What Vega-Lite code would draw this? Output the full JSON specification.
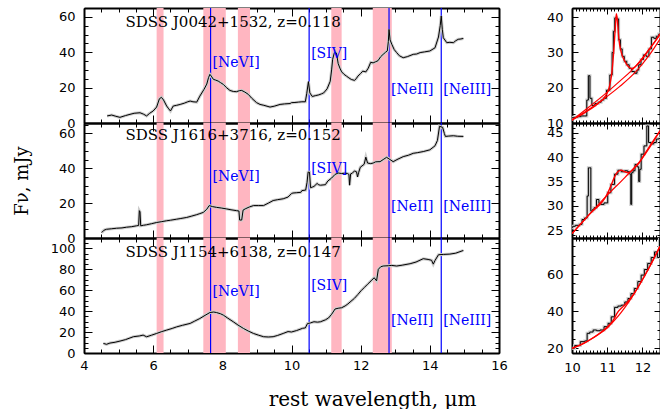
{
"$schema":"https://vega.github.io/schema/vega-lite/v6.json",
"padding":{"left":13,"top":7,"right":0,"bottom":0},
"background":"white",
"config":{"view":{"stroke":null},"axis":{"grid":false,"labelFont":"DejaVu Sans","labelFontSize":13,"labelColor":"#000","tickColor":"#000","tickWidth":1,"domainColor":"#000","domainWidth":2,"titleFont":"DejaVu Serif","titleFontSize":18,"titleFontWeight":"normal","titleColor":"#000","labelFlush":false,"labelOverlap":false,"zindex":1}},
"datasets":{
"bands":[{"x1":6.1,"x2":6.3},{"x1":7.45,"x2":8.1},{"x1":8.45,"x2":8.8},{"x1":11.15,"x2":11.45},{"x1":12.35,"x2":12.9}],
"lines":[{"w":7.66},{"w":10.51},{"w":12.82},{"w":14.33}],
"lab1":[{"t":"[NeVI]","w":7.66,"f":34},{"t":"[SIV]","w":10.51,"f":39},{"t":"[NeII]","w":12.82,"f":18.6},{"t":"[NeIII]","w":14.33,"f":18.6}],
"lab2":[{"t":"[NeVI]","w":7.66,"f":35},{"t":"[SIV]","w":10.51,"f":39.5},{"t":"[NeII]","w":12.82,"f":18},{"t":"[NeIII]","w":14.33,"f":18}],
"lab3":[{"t":"[NeVI]","w":7.66,"f":58},{"t":"[SIV]","w":10.51,"f":64},{"t":"[NeII]","w":12.82,"f":30.5},{"t":"[NeIII]","w":14.33,"f":30.5}],
"title1":[{"t":"SDSS J0042+1532, z=0.118","w":5.2,"f":57}],
"title2":[{"t":"SDSS J1616+3716, z=0.152","w":5.2,"f":59.3}],
"title3":[{"t":"SDSS J1154+6138, z=0.147","w":5.2,"f":97}],
"s1":[{"w":4.67,"f":4.0},{"w":4.8,"f":4.5},{"w":4.92,"f":3.8},{"w":5.04,"f":3.2},{"w":5.2,"f":4.2},{"w":5.33,"f":4.9},{"w":5.45,"f":5.5},{"w":5.62,"f":5.8},{"w":5.72,"f":5.0},{"w":5.81,"f":4.0},{"w":5.9,"f":5.5},{"w":6.0,"f":6.8},{"w":6.1,"f":9.0},{"w":6.18,"f":13.7},{"w":6.24,"f":14.5},{"w":6.3,"f":13.0},{"w":6.39,"f":9.6},{"w":6.45,"f":8.0},{"w":6.5,"f":6.8},{"w":6.58,"f":9.6},{"w":6.68,"f":10.0},{"w":6.78,"f":10.5},{"w":6.9,"f":11.2},{"w":7.0,"f":12.0},{"w":7.07,"f":12.4},{"w":7.15,"f":12.0},{"w":7.26,"f":11.8},{"w":7.35,"f":15.2},{"w":7.47,"f":19.0},{"w":7.55,"f":22.0},{"w":7.6,"f":25.6},{"w":7.64,"f":27.5},{"w":7.68,"f":26.5},{"w":7.74,"f":24.7},{"w":7.8,"f":24.3},{"w":7.88,"f":23.7},{"w":7.95,"f":22.8},{"w":8.03,"f":21.8},{"w":8.12,"f":20.0},{"w":8.22,"f":18.4},{"w":8.32,"f":17.8},{"w":8.41,"f":17.7},{"w":8.5,"f":18.3},{"w":8.56,"f":18.4},{"w":8.65,"f":17.5},{"w":8.75,"f":16.2},{"w":8.85,"f":14.0},{"w":8.99,"f":11.5},{"w":9.09,"f":10.5},{"w":9.2,"f":10.0},{"w":9.38,"f":9.0},{"w":9.5,"f":9.5},{"w":9.67,"f":10.5},{"w":9.8,"f":10.8},{"w":9.96,"f":11.0},{"w":10.0,"f":11.5},{"w":10.1,"f":11.6},{"w":10.2,"f":11.8},{"w":10.3,"f":12.0},{"w":10.4,"f":12.0},{"w":10.44,"f":16.5},{"w":10.49,"f":23.4},{"w":10.53,"f":17.0},{"w":10.6,"f":15.0},{"w":10.7,"f":15.5},{"w":10.79,"f":15.9},{"w":10.87,"f":16.5},{"w":10.93,"f":17.0},{"w":11.03,"f":19.3},{"w":11.12,"f":23.6},{"w":11.16,"f":30.0},{"w":11.19,"f":36.0},{"w":11.24,"f":39.8},{"w":11.3,"f":39.5},{"w":11.35,"f":33.6},{"w":11.4,"f":31.0},{"w":11.45,"f":28.9},{"w":11.52,"f":27.5},{"w":11.59,"f":26.5},{"w":11.66,"f":25.5},{"w":11.73,"f":24.6},{"w":11.82,"f":24.1},{"w":11.87,"f":25.0},{"w":11.92,"f":26.5},{"w":12.0,"f":28.0},{"w":12.06,"f":29.3},{"w":12.15,"f":28.9},{"w":12.22,"f":31.0},{"w":12.29,"f":34.3},{"w":12.36,"f":34.0},{"w":12.43,"f":34.6},{"w":12.5,"f":35.2},{"w":12.58,"f":37.5},{"w":12.65,"f":38.8},{"w":12.72,"f":40.0},{"w":12.77,"f":40.7},{"w":12.8,"f":46.0},{"w":12.82,"f":52.9},{"w":12.85,"f":47.0},{"w":12.9,"f":44.5},{"w":12.97,"f":41.5},{"w":13.04,"f":39.8},{"w":13.12,"f":38.0},{"w":13.23,"f":36.9},{"w":13.35,"f":37.5},{"w":13.52,"f":38.8},{"w":13.62,"f":39.0},{"w":13.72,"f":39.8},{"w":13.85,"f":40.2},{"w":14.0,"f":40.7},{"w":14.15,"f":42.5},{"w":14.25,"f":48.6},{"w":14.3,"f":55.0},{"w":14.33,"f":60.5},{"w":14.36,"f":53.0},{"w":14.39,"f":48.2},{"w":14.49,"f":45.4},{"w":14.58,"f":45.6},{"w":14.68,"f":45.4},{"w":14.75,"f":46.5},{"w":14.82,"f":47.3},{"w":14.9,"f":47.5},{"w":14.97,"f":47.8}],
"s2":[{"w":4.51,"f":3.1},{"w":4.58,"f":4.5},{"w":4.65,"f":5.0},{"w":4.8,"f":5.3},{"w":4.94,"f":5.6},{"w":5.1,"f":5.8},{"w":5.23,"f":6.2},{"w":5.38,"f":6.5},{"w":5.52,"f":7.0},{"w":5.58,"f":7.2},{"w":5.6,"f":15.7},{"w":5.62,"f":15.0},{"w":5.64,"f":7.0},{"w":5.72,"f":7.3},{"w":5.81,"f":7.6},{"w":5.95,"f":8.2},{"w":6.1,"f":8.9},{"w":6.25,"f":9.4},{"w":6.39,"f":9.9},{"w":6.5,"f":10.2},{"w":6.68,"f":10.8},{"w":6.8,"f":11.2},{"w":6.97,"f":11.8},{"w":7.1,"f":12.5},{"w":7.26,"f":13.4},{"w":7.35,"f":14.0},{"w":7.45,"f":14.7},{"w":7.55,"f":16.5},{"w":7.62,"f":18.6},{"w":7.72,"f":18.0},{"w":7.83,"f":17.6},{"w":7.97,"f":17.2},{"w":8.12,"f":16.7},{"w":8.25,"f":16.2},{"w":8.41,"f":15.7},{"w":8.48,"f":15.5},{"w":8.5,"f":10.3},{"w":8.56,"f":10.3},{"w":8.6,"f":16.0},{"w":8.66,"f":16.7},{"w":8.78,"f":17.8},{"w":8.9,"f":18.6},{"w":9.05,"f":18.6},{"w":9.19,"f":18.6},{"w":9.33,"f":20.0},{"w":9.47,"f":21.5},{"w":9.6,"f":22.0},{"w":9.76,"f":22.5},{"w":9.9,"f":23.5},{"w":10.0,"f":25.5},{"w":10.04,"f":25.8},{"w":10.15,"f":26.0},{"w":10.27,"f":26.2},{"w":10.3,"f":27.2},{"w":10.41,"f":27.5},{"w":10.45,"f":32.0},{"w":10.48,"f":37.8},{"w":10.52,"f":37.8},{"w":10.55,"f":28.9},{"w":10.6,"f":29.2},{"w":10.65,"f":29.6},{"w":10.74,"f":31.3},{"w":10.79,"f":30.5},{"w":10.84,"f":30.3},{"w":10.98,"f":30.6},{"w":11.05,"f":32.7},{"w":11.16,"f":34.4},{"w":11.26,"f":36.5},{"w":11.35,"f":37.3},{"w":11.45,"f":37.0},{"w":11.54,"f":37.2},{"w":11.62,"f":37.0},{"w":11.66,"f":36.5},{"w":11.68,"f":30.3},{"w":11.71,"f":36.8},{"w":11.76,"f":37.2},{"w":11.82,"f":38.5},{"w":11.88,"f":38.0},{"w":11.91,"f":35.0},{"w":11.94,"f":37.5},{"w":11.99,"f":40.6},{"w":12.1,"f":42.3},{"w":12.15,"f":46.4},{"w":12.2,"f":43.0},{"w":12.29,"f":42.7},{"w":12.36,"f":43.0},{"w":12.43,"f":43.7},{"w":12.5,"f":43.8},{"w":12.56,"f":43.8},{"w":12.65,"f":45.0},{"w":12.75,"f":46.3},{"w":12.85,"f":45.0},{"w":12.94,"f":43.8},{"w":13.05,"f":45.0},{"w":13.23,"f":46.7},{"w":13.38,"f":47.5},{"w":13.52,"f":48.6},{"w":13.65,"f":49.0},{"w":13.81,"f":49.6},{"w":14.0,"f":50.6},{"w":14.15,"f":52.9},{"w":14.22,"f":56.0},{"w":14.28,"f":64.1},{"w":14.37,"f":63.5},{"w":14.42,"f":60.0},{"w":14.45,"f":58.3},{"w":14.55,"f":58.5},{"w":14.68,"f":58.7},{"w":14.8,"f":58.4},{"w":14.97,"f":58.3}],
"s3":[{"w":4.56,"f":9.2},{"w":4.65,"f":8.3},{"w":4.75,"f":9.5},{"w":4.9,"f":10.3},{"w":5.04,"f":11.4},{"w":5.2,"f":12.8},{"w":5.43,"f":15.6},{"w":5.6,"f":16.3},{"w":5.71,"f":17.1},{"w":5.81,"f":15.5},{"w":5.95,"f":17.0},{"w":6.1,"f":18.7},{"w":6.25,"f":20.5},{"w":6.39,"f":21.9},{"w":6.55,"f":23.5},{"w":6.68,"f":25.0},{"w":6.85,"f":26.5},{"w":7.07,"f":28.3},{"w":7.2,"f":30.5},{"w":7.35,"f":33.0},{"w":7.5,"f":36.0},{"w":7.64,"f":38.7},{"w":7.75,"f":39.2},{"w":7.83,"f":38.7},{"w":7.95,"f":37.5},{"w":8.03,"f":36.2},{"w":8.15,"f":33.5},{"w":8.32,"f":29.8},{"w":8.45,"f":26.8},{"w":8.61,"f":23.5},{"w":8.75,"f":21.0},{"w":8.9,"f":18.7},{"w":9.05,"f":17.0},{"w":9.19,"f":15.6},{"w":9.33,"f":15.3},{"w":9.47,"f":15.6},{"w":9.6,"f":16.8},{"w":9.76,"f":18.7},{"w":9.9,"f":20.5},{"w":10.0,"f":20.1},{"w":10.15,"f":21.5},{"w":10.32,"f":23.6},{"w":10.4,"f":24.0},{"w":10.46,"f":28.1},{"w":10.55,"f":28.8},{"w":10.65,"f":29.9},{"w":10.75,"f":29.5},{"w":10.84,"f":29.9},{"w":10.98,"f":31.7},{"w":11.07,"f":33.5},{"w":11.16,"f":37.0},{"w":11.26,"f":42.1},{"w":11.35,"f":42.8},{"w":11.45,"f":43.3},{"w":11.55,"f":45.0},{"w":11.63,"f":46.9},{"w":11.72,"f":49.5},{"w":11.82,"f":52.3},{"w":11.92,"f":56.0},{"w":12.01,"f":59.5},{"w":12.1,"f":62.5},{"w":12.2,"f":65.8},{"w":12.3,"f":69.0},{"w":12.39,"f":72.0},{"w":12.46,"f":69.0},{"w":12.51,"f":80.0},{"w":12.58,"f":82.5},{"w":12.65,"f":83.2},{"w":12.8,"f":83.5},{"w":12.9,"f":83.8},{"w":13.04,"f":83.2},{"w":13.2,"f":84.0},{"w":13.43,"f":85.4},{"w":13.6,"f":87.0},{"w":13.81,"f":90.2},{"w":13.95,"f":89.5},{"w":14.05,"f":88.7},{"w":14.1,"f":85.0},{"w":14.15,"f":88.5},{"w":14.25,"f":94.0},{"w":14.4,"f":94.3},{"w":14.58,"f":94.6},{"w":14.75,"f":95.5},{"w":14.97,"f":98.1}],
"cont1":[{"c":"a","w":10,"f":10.8},{"c":"a","w":10.4,"f":13.3},{"c":"a","w":10.9,"f":16.8},{"c":"a","w":11.35,"f":20.3},{"c":"a","w":11.8,"f":24.4},{"c":"a","w":12.2,"f":29.3},{"c":"a","w":12.5,"f":33.8},{"c":"b","w":10,"f":10.8},{"c":"b","w":10.4,"f":13.9},{"c":"b","w":10.9,"f":17.9},{"c":"b","w":11.35,"f":21.8},{"c":"b","w":11.8,"f":26.0},{"c":"b","w":12.2,"f":31.0},{"c":"b","w":12.5,"f":35.0}],
"tot1":[{"w":10,"f":11.0},{"w":10.3,"f":12.5},{"w":10.5,"f":13.8},{"w":10.7,"f":15.2},{"w":10.9,"f":17.0},{"w":11.0,"f":18.5},{"w":11.08,"f":21.0},{"w":11.14,"f":25.0},{"w":11.19,"f":31.0},{"w":11.23,"f":37.0},{"w":11.26,"f":41.0},{"w":11.29,"f":39.0},{"w":11.33,"f":34.0},{"w":11.4,"f":30.0},{"w":11.5,"f":27.5},{"w":11.6,"f":26.0},{"w":11.7,"f":25.4},{"w":11.8,"f":26.0},{"w":11.9,"f":27.0},{"w":12.0,"f":28.2},{"w":12.2,"f":31.0},{"w":12.35,"f":33.0},{"w":12.5,"f":35.3}],
"cont2":[{"c":"a","w":10,"f":24.3},{"c":"a","w":10.5,"f":28.3},{"c":"a","w":11,"f":32.2},{"c":"a","w":11.5,"f":35.8},{"c":"a","w":12,"f":39.8},{"c":"a","w":12.5,"f":45.4}],
"tot2":[{"w":10,"f":24.3},{"w":10.5,"f":28.3},{"w":11.0,"f":32.4},{"w":11.1,"f":34.0},{"w":11.2,"f":35.8},{"w":11.3,"f":37.0},{"w":11.4,"f":37.3},{"w":11.5,"f":37.0},{"w":11.6,"f":36.8},{"w":11.7,"f":37.2},{"w":11.8,"f":38.0},{"w":11.9,"f":38.7},{"w":12.0,"f":39.9},{"w":12.5,"f":45.4}],
"cont3":[{"c":"a","w":10,"f":20.0},{"c":"a","w":10.25,"f":21.8},{"c":"a","w":10.5,"f":24.5},{"c":"a","w":10.75,"f":27.5},{"c":"a","w":11,"f":31.0},{"c":"a","w":11.25,"f":36.0},{"c":"a","w":11.5,"f":42.0},{"c":"a","w":11.75,"f":49.0},{"c":"a","w":12,"f":57.0},{"c":"a","w":12.25,"f":65.5},{"c":"a","w":12.5,"f":75.0}],
"tot3":[{"w":10,"f":20.0},{"w":10.5,"f":24.5},{"w":11.0,"f":31.5},{"w":11.15,"f":34.5},{"w":11.3,"f":39.5},{"w":11.45,"f":42.5},{"w":11.6,"f":45.5},{"w":11.75,"f":49.2},{"w":12.0,"f":57.0},{"w":12.25,"f":65.8},{"w":12.5,"f":75.0}]
},
"spacing":38,
"hconcat":[
{"vconcat":[
{"width":415,"height":115,"layer":[
{"data":{"name":"bands"},"mark":{"type":"rect","color":"#ffb6c1"},"encoding":{"x":{"field":"x1","type":"quantitative","scale":{"domain":[4,16],"nice":false,"zero":false},"axis":null},"x2":{"field":"x2"}}},
{"data":{"name":"lines"},"mark":{"type":"rule","color":"#0000ff","strokeWidth":1.2},"encoding":{"x":{"field":"w","type":"quantitative","scale":{"domain":[4,16],"nice":false,"zero":false},"axis":null}}},
{"data":{"name":"s1"},"mark":{"type":"line","color":"#cccccc","strokeWidth":3,"clip":true},"encoding":{"x":{"field":"w","type":"quantitative","scale":{"domain":[4,16],"nice":false,"zero":false},"axis":{"orient":"bottom","values":[4,6,8,10,12,14,16],"tickSize":-8,"labels":false,"title":null}},"y":{"field":"f","type":"quantitative","scale":{"domain":[0,65],"nice":false,"zero":false},"axis":{"orient":"left","values":[0,20,40,60],"tickSize":-8,"labelPadding":17,"title":null}}}},
{"data":{"name":"s1"},"mark":{"type":"line","color":"#000","strokeWidth":1,"clip":true},"encoding":{"x":{"field":"w","type":"quantitative","scale":{"domain":[4,16],"nice":false,"zero":false},"axis":{"orient":"bottom","values":[4,4.5,5,5.5,6,6.5,7,7.5,8,8.5,9,9.5,10,10.5,11,11.5,12,12.5,13,13.5,14,14.5,15,15.5,16],"tickSize":-4,"labels":false,"domain":false,"title":null}},"y":{"field":"f","type":"quantitative","scale":{"domain":[0,65],"nice":false,"zero":false},"axis":{"orient":"left","values":[0,5,10,15,20,25,30,35,40,45,50,55,60,65],"tickSize":-4,"labels":false,"domain":false,"title":null}}}},
{"data":{"name":"lab1"},"mark":{"type":"text","color":"#0000ff","font":"DejaVu Serif","fontSize":14,"align":"left","baseline":"middle","dx":2},"encoding":{"x":{"field":"w","type":"quantitative","scale":{"domain":[4,16],"nice":false,"zero":false},"axis":{"orient":"top","values":[4,6,8,10,12,14,16],"tickSize":-8,"labels":false,"title":null}},"y":{"field":"f","type":"quantitative","scale":{"domain":[0,65],"nice":false,"zero":false},"axis":{"orient":"right","values":[0,20,40,60],"tickSize":-8,"labels":false,"title":null}},"text":{"field":"t"}}},
{"data":{"name":"title1"},"mark":{"type":"text","color":"#000","font":"DejaVu Serif","fontSize":15,"align":"left","baseline":"middle"},"encoding":{"x":{"field":"w","type":"quantitative","scale":{"domain":[4,16],"nice":false,"zero":false},"axis":{"orient":"top","values":[4,4.5,5,5.5,6,6.5,7,7.5,8,8.5,9,9.5,10,10.5,11,11.5,12,12.5,13,13.5,14,14.5,15,15.5,16],"tickSize":-4,"labels":false,"domain":false,"title":null}},"y":{"field":"f","type":"quantitative","scale":{"domain":[0,65],"nice":false,"zero":false},"axis":{"orient":"right","values":[0,5,10,15,20,25,30,35,40,45,50,55,60,65],"tickSize":-4,"labels":false,"domain":false,"title":null}},"text":{"field":"t"}}}
],"resolve":{"axis":{"x":"independent","y":"independent"}}},
{"width":415,"height":115,"layer":[
{"data":{"name":"bands"},"mark":{"type":"rect","color":"#ffb6c1"},"encoding":{"x":{"field":"x1","type":"quantitative","scale":{"domain":[4,16],"nice":false,"zero":false},"axis":null},"x2":{"field":"x2"}}},
{"data":{"name":"lines"},"mark":{"type":"rule","color":"#0000ff","strokeWidth":1.2},"encoding":{"x":{"field":"w","type":"quantitative","scale":{"domain":[4,16],"nice":false,"zero":false},"axis":null}}},
{"data":{"name":"s2"},"mark":{"type":"line","color":"#cccccc","strokeWidth":3,"clip":true},"encoding":{"x":{"field":"w","type":"quantitative","scale":{"domain":[4,16],"nice":false,"zero":false},"axis":{"orient":"bottom","values":[4,6,8,10,12,14,16],"tickSize":-8,"labels":false,"title":null}},"y":{"field":"f","type":"quantitative","scale":{"domain":[0,66],"nice":false,"zero":false},"axis":{"orient":"left","values":[0,20,40,60],"tickSize":-8,"labelPadding":17,"title":"Fν,  mJy","titlePadding":27}}}},
{"data":{"name":"s2"},"mark":{"type":"line","color":"#000","strokeWidth":1,"clip":true},"encoding":{"x":{"field":"w","type":"quantitative","scale":{"domain":[4,16],"nice":false,"zero":false},"axis":{"orient":"bottom","values":[4,4.5,5,5.5,6,6.5,7,7.5,8,8.5,9,9.5,10,10.5,11,11.5,12,12.5,13,13.5,14,14.5,15,15.5,16],"tickSize":-4,"labels":false,"domain":false,"title":null}},"y":{"field":"f","type":"quantitative","scale":{"domain":[0,66],"nice":false,"zero":false},"axis":{"orient":"left","values":[0,5,10,15,20,25,30,35,40,45,50,55,60,65],"tickSize":-4,"labels":false,"domain":false,"title":null}}}},
{"data":{"name":"lab2"},"mark":{"type":"text","color":"#0000ff","font":"DejaVu Serif","fontSize":14,"align":"left","baseline":"middle","dx":2},"encoding":{"x":{"field":"w","type":"quantitative","scale":{"domain":[4,16],"nice":false,"zero":false},"axis":{"orient":"top","values":[4,6,8,10,12,14,16],"tickSize":-8,"labels":false,"title":null}},"y":{"field":"f","type":"quantitative","scale":{"domain":[0,66],"nice":false,"zero":false},"axis":{"orient":"right","values":[0,20,40,60],"tickSize":-8,"labels":false,"title":null}},"text":{"field":"t"}}},
{"data":{"name":"title2"},"mark":{"type":"text","color":"#000","font":"DejaVu Serif","fontSize":15,"align":"left","baseline":"middle"},"encoding":{"x":{"field":"w","type":"quantitative","scale":{"domain":[4,16],"nice":false,"zero":false},"axis":{"orient":"top","values":[4,4.5,5,5.5,6,6.5,7,7.5,8,8.5,9,9.5,10,10.5,11,11.5,12,12.5,13,13.5,14,14.5,15,15.5,16],"tickSize":-4,"labels":false,"domain":false,"title":null}},"y":{"field":"f","type":"quantitative","scale":{"domain":[0,66],"nice":false,"zero":false},"axis":{"orient":"right","values":[0,5,10,15,20,25,30,35,40,45,50,55,60,65],"tickSize":-4,"labels":false,"domain":false,"title":null}},"text":{"field":"t"}}}
],"resolve":{"axis":{"x":"independent","y":"independent"}}},
{"width":415,"height":115,"layer":[
{"data":{"name":"bands"},"mark":{"type":"rect","color":"#ffb6c1"},"encoding":{"x":{"field":"x1","type":"quantitative","scale":{"domain":[4,16],"nice":false,"zero":false},"axis":null},"x2":{"field":"x2"}}},
{"data":{"name":"lines"},"mark":{"type":"rule","color":"#0000ff","strokeWidth":1.2},"encoding":{"x":{"field":"w","type":"quantitative","scale":{"domain":[4,16],"nice":false,"zero":false},"axis":null}}},
{"data":{"name":"s3"},"mark":{"type":"line","color":"#cccccc","strokeWidth":3,"clip":true},"encoding":{"x":{"field":"w","type":"quantitative","scale":{"domain":[4,16],"nice":false,"zero":false},"axis":{"orient":"bottom","values":[4,6,8,10,12,14,16],"tickSize":-8,"labelPadding":14,"title":"rest wavelength, μm","titleX":288,"titlePadding":17,"titleFontSize":20}},"y":{"field":"f","type":"quantitative","scale":{"domain":[0,110],"nice":false,"zero":false},"axis":{"orient":"left","values":[0,20,40,60,80,100],"tickSize":-8,"labelPadding":17,"title":null}}}},
{"data":{"name":"s3"},"mark":{"type":"line","color":"#000","strokeWidth":1,"clip":true},"encoding":{"x":{"field":"w","type":"quantitative","scale":{"domain":[4,16],"nice":false,"zero":false},"axis":{"orient":"bottom","values":[4,4.5,5,5.5,6,6.5,7,7.5,8,8.5,9,9.5,10,10.5,11,11.5,12,12.5,13,13.5,14,14.5,15,15.5,16],"tickSize":-4,"labels":false,"domain":false,"title":null}},"y":{"field":"f","type":"quantitative","scale":{"domain":[0,110],"nice":false,"zero":false},"axis":{"orient":"left","values":[0,5,10,15,20,25,30,35,40,45,50,55,60,65,70,75,80,85,90,95,100,105,110],"tickSize":-4,"labels":false,"domain":false,"title":null}}}},
{"data":{"name":"lab3"},"mark":{"type":"text","color":"#0000ff","font":"DejaVu Serif","fontSize":14,"align":"left","baseline":"middle","dx":2},"encoding":{"x":{"field":"w","type":"quantitative","scale":{"domain":[4,16],"nice":false,"zero":false},"axis":{"orient":"top","values":[4,6,8,10,12,14,16],"tickSize":-8,"labels":false,"title":null}},"y":{"field":"f","type":"quantitative","scale":{"domain":[0,110],"nice":false,"zero":false},"axis":{"orient":"right","values":[0,20,40,60,80,100],"tickSize":-8,"labels":false,"title":null}},"text":{"field":"t"}}},
{"data":{"name":"title3"},"mark":{"type":"text","color":"#000","font":"DejaVu Serif","fontSize":15,"align":"left","baseline":"middle"},"encoding":{"x":{"field":"w","type":"quantitative","scale":{"domain":[4,16],"nice":false,"zero":false},"axis":{"orient":"top","values":[4,4.5,5,5.5,6,6.5,7,7.5,8,8.5,9,9.5,10,10.5,11,11.5,12,12.5,13,13.5,14,14.5,15,15.5,16],"tickSize":-4,"labels":false,"domain":false,"title":null}},"y":{"field":"f","type":"quantitative","scale":{"domain":[0,110],"nice":false,"zero":false},"axis":{"orient":"right","values":[0,5,10,15,20,25,30,35,40,45,50,55,60,65,70,75,80,85,90,95,100,105,110],"tickSize":-4,"labels":false,"domain":false,"title":null}},"text":{"field":"t"}}}
],"resolve":{"axis":{"x":"independent","y":"independent"}}}
],"spacing":0,"bounds":"flush"},
{"vconcat":[
{"width":88,"height":115,"layer":[
{"data":{"name":"s1"},"mark":{"type":"line","interpolate":"step","color":"#cccccc","strokeWidth":3,"clip":true},"encoding":{"x":{"field":"w","type":"quantitative","scale":{"domain":[10,12.5],"nice":false,"zero":false},"axis":{"orient":"bottom","values":[10,11,12],"tickSize":-6,"labels":false,"title":null}},"y":{"field":"f","type":"quantitative","scale":{"domain":[10,42.6],"nice":false,"zero":false},"axis":{"orient":"left","values":[10,20,30,40],"tickSize":-6,"labelPadding":15,"title":null}}}},
{"data":{"name":"s1"},"mark":{"type":"line","interpolate":"step","color":"#000","strokeWidth":1,"clip":true},"encoding":{"x":{"field":"w","type":"quantitative","scale":{"domain":[10,12.5],"nice":false,"zero":false},"axis":{"orient":"bottom","values":[10,10.1,10.2,10.3,10.4,10.5,10.6,10.7,10.8,10.9,11,11.1,11.2,11.3,11.4,11.5,11.6,11.7,11.8,11.9,12,12.1,12.2,12.3,12.4,12.5],"tickSize":-3,"labels":false,"domain":false,"title":null}},"y":{"field":"f","type":"quantitative","scale":{"domain":[10,42.6],"nice":false,"zero":false},"axis":{"orient":"left","values":[10,12.5,15,17.5,20,22.5,25,27.5,30,32.5,35,37.5,40,42.5],"tickSize":-3,"labels":false,"domain":false,"title":null}}}},
{"data":{"name":"cont1"},"mark":{"type":"line","interpolate":"monotone","color":"#ff0000","strokeWidth":1.2,"clip":true},"encoding":{"detail":{"field":"c"},"x":{"field":"w","type":"quantitative","scale":{"domain":[10,12.5],"nice":false,"zero":false},"axis":{"orient":"top","values":[10,11,12],"tickSize":-6,"labels":false,"title":null}},"y":{"field":"f","type":"quantitative","scale":{"domain":[10,42.6],"nice":false,"zero":false},"axis":{"orient":"right","values":[10,20,30,40],"tickSize":-6,"labels":false,"title":null}}}},
{"data":{"name":"tot1"},"mark":{"type":"line","interpolate":"monotone","color":"#ff0000","strokeWidth":1.4,"clip":true},"encoding":{"x":{"field":"w","type":"quantitative","scale":{"domain":[10,12.5],"nice":false,"zero":false},"axis":{"orient":"top","values":[10,10.1,10.2,10.3,10.4,10.5,10.6,10.7,10.8,10.9,11,11.1,11.2,11.3,11.4,11.5,11.6,11.7,11.8,11.9,12,12.1,12.2,12.3,12.4,12.5],"tickSize":-3,"labels":false,"domain":false,"title":null}},"y":{"field":"f","type":"quantitative","scale":{"domain":[10,42.6],"nice":false,"zero":false},"axis":{"orient":"right","values":[10,12.5,15,17.5,20,22.5,25,27.5,30,32.5,35,37.5,40,42.5],"tickSize":-3,"labels":false,"domain":false,"title":null}}}}
],"resolve":{"axis":{"x":"independent","y":"independent"}}},
{"width":88,"height":115,"layer":[
{"data":{"name":"s2"},"mark":{"type":"line","interpolate":"step","color":"#cccccc","strokeWidth":3,"clip":true},"encoding":{"x":{"field":"w","type":"quantitative","scale":{"domain":[10,12.5],"nice":false,"zero":false},"axis":{"orient":"bottom","values":[10,11,12],"tickSize":-6,"labels":false,"title":null}},"y":{"field":"f","type":"quantitative","scale":{"domain":[23.4,47],"nice":false,"zero":false},"axis":{"orient":"left","values":[25,30,35,40,45],"tickSize":-6,"labelPadding":15,"title":null}}}},
{"data":{"name":"s2"},"mark":{"type":"line","interpolate":"step","color":"#000","strokeWidth":1,"clip":true},"encoding":{"x":{"field":"w","type":"quantitative","scale":{"domain":[10,12.5],"nice":false,"zero":false},"axis":{"orient":"bottom","values":[10,10.1,10.2,10.3,10.4,10.5,10.6,10.7,10.8,10.9,11,11.1,11.2,11.3,11.4,11.5,11.6,11.7,11.8,11.9,12,12.1,12.2,12.3,12.4,12.5],"tickSize":-3,"labels":false,"domain":false,"title":null}},"y":{"field":"f","type":"quantitative","scale":{"domain":[23.4,47],"nice":false,"zero":false},"axis":{"orient":"left","values":[24,25,26,27,28,29,30,31,32,33,34,35,36,37,38,39,40,41,42,43,44,45,46,47],"tickSize":-3,"labels":false,"domain":false,"title":null}}}},
{"data":{"name":"cont2"},"mark":{"type":"line","interpolate":"monotone","color":"#ff0000","strokeWidth":1.2,"clip":true},"encoding":{"detail":{"field":"c"},"x":{"field":"w","type":"quantitative","scale":{"domain":[10,12.5],"nice":false,"zero":false},"axis":{"orient":"top","values":[10,11,12],"tickSize":-6,"labels":false,"title":null}},"y":{"field":"f","type":"quantitative","scale":{"domain":[23.4,47],"nice":false,"zero":false},"axis":{"orient":"right","values":[25,30,35,40,45],"tickSize":-6,"labels":false,"title":null}}}},
{"data":{"name":"tot2"},"mark":{"type":"line","interpolate":"monotone","color":"#ff0000","strokeWidth":1.4,"clip":true},"encoding":{"x":{"field":"w","type":"quantitative","scale":{"domain":[10,12.5],"nice":false,"zero":false},"axis":{"orient":"top","values":[10,10.1,10.2,10.3,10.4,10.5,10.6,10.7,10.8,10.9,11,11.1,11.2,11.3,11.4,11.5,11.6,11.7,11.8,11.9,12,12.1,12.2,12.3,12.4,12.5],"tickSize":-3,"labels":false,"domain":false,"title":null}},"y":{"field":"f","type":"quantitative","scale":{"domain":[23.4,47],"nice":false,"zero":false},"axis":{"orient":"right","values":[24,25,26,27,28,29,30,31,32,33,34,35,36,37,38,39,40,41,42,43,44,45,46,47],"tickSize":-3,"labels":false,"domain":false,"title":null}}}}
],"resolve":{"axis":{"x":"independent","y":"independent"}}},
{"width":88,"height":115,"layer":[
{"data":{"name":"s3"},"mark":{"type":"line","interpolate":"step","color":"#cccccc","strokeWidth":3,"clip":true},"encoding":{"x":{"field":"w","type":"quantitative","scale":{"domain":[10,12.5],"nice":false,"zero":false},"axis":{"orient":"bottom","values":[10,11,12],"tickSize":-6,"labelPadding":14,"title":null}},"y":{"field":"f","type":"quantitative","scale":{"domain":[17.5,79.5],"nice":false,"zero":false},"axis":{"orient":"left","values":[20,40,60],"tickSize":-6,"labelPadding":15,"title":null}}}},
{"data":{"name":"s3"},"mark":{"type":"line","interpolate":"step","color":"#000","strokeWidth":1,"clip":true},"encoding":{"x":{"field":"w","type":"quantitative","scale":{"domain":[10,12.5],"nice":false,"zero":false},"axis":{"orient":"bottom","values":[10,10.1,10.2,10.3,10.4,10.5,10.6,10.7,10.8,10.9,11,11.1,11.2,11.3,11.4,11.5,11.6,11.7,11.8,11.9,12,12.1,12.2,12.3,12.4,12.5],"tickSize":-3,"labels":false,"domain":false,"title":null}},"y":{"field":"f","type":"quantitative","scale":{"domain":[17.5,79.5],"nice":false,"zero":false},"axis":{"orient":"left","values":[20,25,30,35,40,45,50,55,60,65,70,75],"tickSize":-3,"labels":false,"domain":false,"title":null}}}},
{"data":{"name":"cont3"},"mark":{"type":"line","interpolate":"monotone","color":"#ff0000","strokeWidth":1.2,"clip":true},"encoding":{"detail":{"field":"c"},"x":{"field":"w","type":"quantitative","scale":{"domain":[10,12.5],"nice":false,"zero":false},"axis":{"orient":"top","values":[10,11,12],"tickSize":-6,"labels":false,"title":null}},"y":{"field":"f","type":"quantitative","scale":{"domain":[17.5,79.5],"nice":false,"zero":false},"axis":{"orient":"right","values":[20,40,60],"tickSize":-6,"labels":false,"title":null}}}},
{"data":{"name":"tot3"},"mark":{"type":"line","interpolate":"monotone","color":"#ff0000","strokeWidth":1.4,"clip":true},"encoding":{"x":{"field":"w","type":"quantitative","scale":{"domain":[10,12.5],"nice":false,"zero":false},"axis":{"orient":"top","values":[10,10.1,10.2,10.3,10.4,10.5,10.6,10.7,10.8,10.9,11,11.1,11.2,11.3,11.4,11.5,11.6,11.7,11.8,11.9,12,12.1,12.2,12.3,12.4,12.5],"tickSize":-3,"labels":false,"domain":false,"title":null}},"y":{"field":"f","type":"quantitative","scale":{"domain":[17.5,79.5],"nice":false,"zero":false},"axis":{"orient":"right","values":[20,25,30,35,40,45,50,55,60,65,70,75],"tickSize":-3,"labels":false,"domain":false,"title":null}}}}
],"resolve":{"axis":{"x":"independent","y":"independent"}}}
],"spacing":0,"bounds":"flush"}
]
}
